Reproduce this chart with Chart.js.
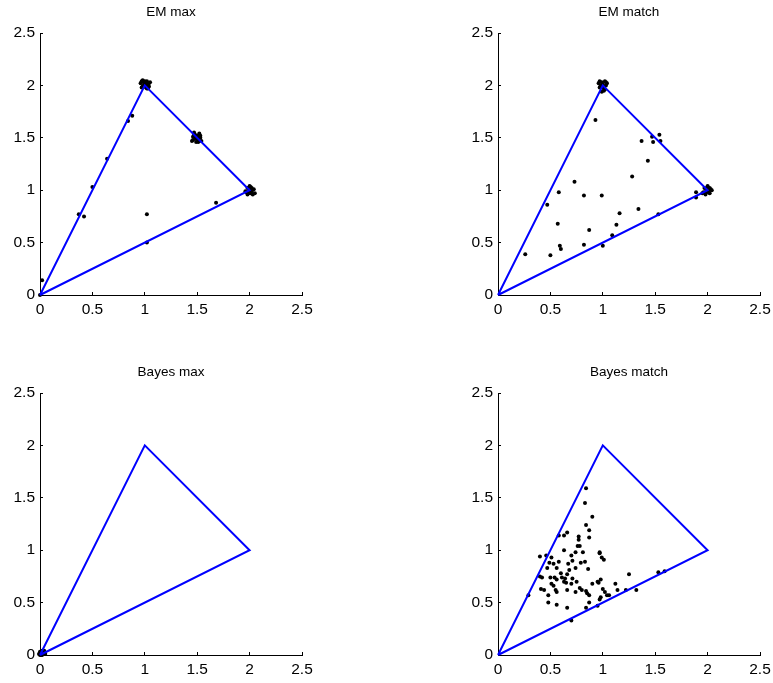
<!DOCTYPE html>
<html>
<head>
<meta charset="utf-8">
<script src="https://cdn.jsdelivr.net/npm/chart.js@4/dist/chart.umd.min.js"></script>
<style>
  html, body { margin: 0; padding: 0; background: #fff; }
  body { width: 773px; height: 683px; position: relative; overflow: hidden; }
  .box { position: absolute; width: 316px; height: 330px; }
  canvas { display: block; }
</style>
</head>
<body>
<div class="box" style="left:0px;top:0px;"><canvas id="c1" width="316" height="330"></canvas></div>
<div class="box" style="left:458px;top:0px;"><canvas id="c2" width="316" height="330"></canvas></div>
<div class="box" style="left:0px;top:360px;"><canvas id="c3" width="316" height="330"></canvas></div>
<div class="box" style="left:458px;top:360px;"><canvas id="c4" width="316" height="330"></canvas></div>
<script>
// ---- Data ----
const titles = ["EM max", "EM match", "Bayes max", "Bayes match"];
const axisTicks = [0, 0.5, 1, 1.5, 2, 2.5];
const triangleX = [0, 1, 2, 0];
const triangleY = [0, 2, 1, 0];

const emMaxX = [0.96,0.97,0.98,0.99,1.00,1.01,1.02,1.03,1.04,1.05,0.97,1.00,1.02,1.04,0.99,1.01,0.98,1.03,
  1.45,1.46,1.47,1.48,1.49,1.50,1.51,1.52,1.53,1.54,1.46,1.48,1.50,1.52,1.49,1.51,1.47,1.53,
  1.97,1.98,1.99,2.00,2.01,2.02,2.03,2.04,1.98,2.00,2.02,2.05,1.96,2.01,
  0.02,0.37,0.42,1.02,1.68,0.84,0.88,0.64,0.50,1.02,0.00];
const emMaxY = [2.02,2.04,1.99,2.03,2.01,1.98,2.04,2.00,2.02,2.03,1.98,2.04,1.97,1.99,2.00,2.02,2.05,1.97,
  1.47,1.51,1.53,1.49,1.46,1.52,1.48,1.54,1.50,1.47,1.48,1.53,1.49,1.51,1.50,1.46,1.55,1.52,
  0.98,1.02,0.97,1.00,1.03,0.99,0.96,1.01,0.96,1.04,1.02,0.97,0.99,0.97,
  0.14,0.77,0.75,0.77,0.88,1.66,1.71,1.30,1.03,0.50,0.00];

const emMatchX = [0.96,0.97,0.98,0.99,1.00,1.01,1.02,1.03,1.04,0.97,0.99,1.01,1.03,0.98,1.00,1.02,
  1.96,1.97,1.98,1.99,2.00,2.01,2.02,2.03,2.04,1.98,2.00,2.02,1.95,2.01,
  0.26,0.50,0.47,0.58,0.57,0.59,0.60,0.73,0.82,0.87,0.82,0.93,0.99,1.00,1.13,1.16,1.09,1.28,1.34,1.43,1.37,
  1.53,1.47,1.48,1.54,1.55,1.89,1.89];
const emMatchY = [2.02,2.04,1.99,2.03,2.01,1.97,2.04,2.00,2.02,1.98,1.94,1.95,2.03,2.00,1.99,1.96,
  0.98,1.02,0.97,1.00,1.03,0.99,0.97,1.01,1.00,0.96,1.04,1.02,0.97,0.98,
  0.39,0.38,0.86,0.98,0.68,0.47,0.44,1.08,0.95,0.62,0.48,1.67,0.95,0.47,0.67,0.78,0.57,1.13,0.82,1.28,1.47,
  0.77,1.51,1.46,1.53,1.47,0.98,0.93];

const bayesMaxX = [0.00,0.01,0.02,0.03,0.00,0.02,0.04,0.01,0.03,0.05,0.00,0.02,0.04,0.01,-0.01,0.03];
const bayesMaxY = [0.00,0.01,0.02,0.01,0.02,0.00,0.02,0.03,0.03,0.01,0.03,0.04,0.04,0.00,0.01,0.02];

const bayesMatchX = [0.40,0.46,0.51,0.47,0.49,0.53,0.42,0.41,0.44,0.48,0.48,0.56,0.51,0.50,0.54,0.56,0.53,0.55,0.56,0.56,
  0.58,0.63,0.66,0.63,0.60,0.61,0.63,0.65,0.66,0.66,0.67,0.66,0.68,0.70,0.71,0.70,0.70,0.74,0.74,0.74,
  0.75,0.76,0.78,0.77,0.77,0.79,0.78,0.80,0.81,0.83,0.83,0.84,0.84,0.84,0.85,0.84,0.86,0.87,0.87,0.87,
  0.87,0.90,0.90,0.95,0.96,0.97,0.97,0.97,0.98,0.98,0.99,1.01,1.00,1.02,1.04,1.06,1.12,1.14,1.22,1.25,
  1.32,1.53,1.59,0.29,0.95,0.40,0.58,0.71,0.64];
const bayesMatchY = [0.94,0.95,0.93,0.83,0.88,0.87,0.74,0.63,0.62,0.57,0.50,0.48,0.68,0.74,0.74,0.72,0.66,0.62,0.60,0.83,
  1.14,1.14,1.17,1.00,0.78,0.74,0.70,0.69,0.62,0.45,0.87,0.77,0.81,0.95,0.90,0.68,0.33,0.98,0.83,0.60,
  0.70,1.04,1.04,1.13,1.10,0.88,0.64,0.62,0.98,0.89,1.45,1.59,1.24,0.61,0.59,0.45,0.82,0.57,0.50,1.19,
  1.12,1.32,0.68,0.70,0.69,0.98,0.97,0.53,0.72,0.55,0.93,0.91,0.63,0.60,0.57,0.57,0.68,0.62,0.62,0.77,
  0.62,0.79,0.80,0.57,0.47,0.75,0.89,0.73,0.73];

// ---- Build charts ----
function pts(xs, ys) { return xs.map((x, i) => ({ x: x, y: ys[i] })); }

const FONT = "'Liberation Sans', Arial, Helvetica, sans-serif";

const titlePlugin = {
  id: 'subTitle',
  afterDraw(chart, args, opts) {
    const ca = chart.chartArea;
    const ctx = chart.ctx;
    ctx.save();
    ctx.fillStyle = '#000';
    ctx.font = '13.5px ' + FONT;
    ctx.textAlign = 'center';
    ctx.textBaseline = 'middle';
    ctx.fillText(opts.text, (ca.left + ca.right) / 2, 12);
    ctx.restore();
  }
};

function axis(fitFn) {
  return {
    type: 'linear',
    min: 0, max: 2.5,
    afterBuildTicks: s => { s.ticks = axisTicks.map(v => ({ value: v })); },
    afterFit: s => { fitFn(s); s.paddingLeft = 0; s.paddingRight = 0; s.paddingTop = 0; s.paddingBottom = 0; },
    grid: { drawOnChartArea: false, drawTicks: true, tickLength: -3, color: '#000', lineWidth: 1 },
    border: { display: true, color: '#000', width: 1 },
    ticks: { color: '#000', font: { family: FONT, size: 15.5 }, padding: 8, maxRotation: 0, autoSkip: false,
             callback: v => String(v) }
  };
}

function makeChart(id, title, xs, ys) {
  new Chart(document.getElementById(id), {
    type: 'scatter',
    data: {
      datasets: [
        { data: pts(triangleX, triangleY), showLine: true, borderColor: '#0000ff', borderWidth: 2,
          pointRadius: 0, fill: false, tension: 0, clip: false },
        { data: pts(xs, ys), pointRadius: 2, pointBackgroundColor: '#000', pointBorderWidth: 0,
          borderWidth: 0, clip: false }
      ]
    },
    options: {
      responsive: false,
      animation: false,
      devicePixelRatio: 1,
      layout: { padding: { top: 33, right: 14, left: 0, bottom: 0 } },
      plugins: { legend: { display: false }, tooltip: { enabled: false }, subTitle: { text: title } },
      scales: {
        x: Object.assign(axis(s => { s.height = 35; }), { position: 'bottom' }),
        y: Object.assign(axis(s => { s.width = 40; }), { position: 'left' })
      }
    },
    plugins: [titlePlugin]
  });
}

makeChart('c1', titles[0], emMaxX, emMaxY);
makeChart('c2', titles[1], emMatchX, emMatchY);
makeChart('c3', titles[2], bayesMaxX, bayesMaxY);
makeChart('c4', titles[3], bayesMatchX, bayesMatchY);
</script>
</body>
</html>
